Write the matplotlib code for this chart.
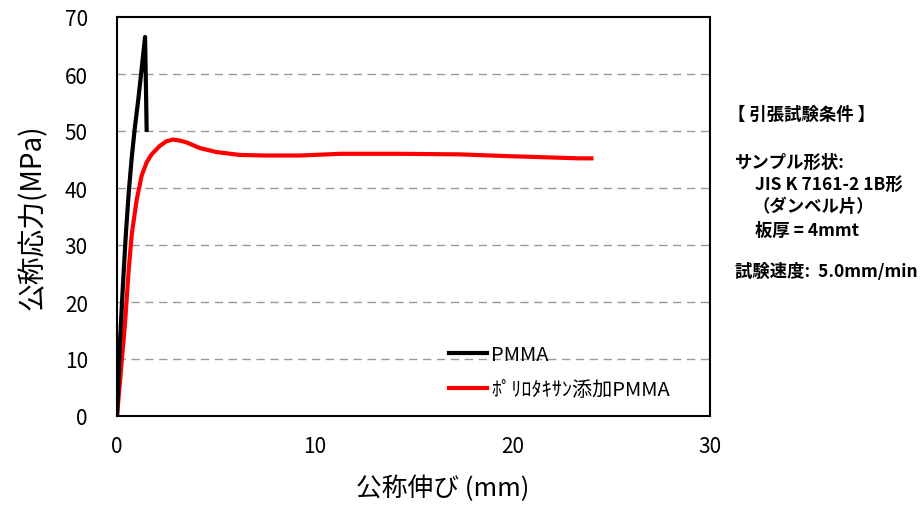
import matplotlib
matplotlib.use("Agg")
import matplotlib.pyplot as plt

plt.rcParams['font.family'] = ['Noto Sans CJK JP', 'DejaVu Sans']

# Data
pmma_x = [0, 0.15, 0.3, 0.45, 0.6, 0.75, 0.9, 1.08, 1.25, 1.42, 1.5]
pmma_y = [0, 13, 23, 32, 39.5, 45.5, 50.5, 55.6, 61, 66.5, 50.2]

rot_x = [0, 0.2, 0.4, 0.6, 0.75, 1.0, 1.25, 1.5, 1.75, 2.17, 2.5, 2.85, 3.2, 3.52,
         4.2, 5.04, 6.22, 7.5, 9.26, 11.3, 14.3, 17.35, 19.7, 21.55, 23.4, 24.0]
rot_y = [0, 8, 16, 26, 32, 38, 42.2, 44.5, 45.9, 47.4, 48.2, 48.5, 48.3, 48.0,
         47.0, 46.3, 45.8, 45.7, 45.7, 46.0, 46.0, 45.9, 45.6, 45.4, 45.2, 45.2]

labels = ["PMMA", "ﾎﾟﾘﾛﾀｷｻﾝ添加PMMA"]
xticks = [0, 10, 20, 30]
yticks = [0, 10, 20, 30, 40, 50, 60, 70]

fig = plt.figure(figsize=(9.22, 5.06), dpi=100)
ax = fig.add_axes([117/922, 1-417/506, (710-117)/922, (417-18)/506])

for y in yticks[1:-1]:
    ax.axhline(y, color='#999999', lw=1, ls=(0, (6, 4)), zorder=1)

ax.plot(pmma_x, pmma_y, color='black', lw=3, label=labels[0], zorder=3)
ax.plot(rot_x, rot_y, color='#ff0000', lw=3, label=labels[1], zorder=2)

ax.set_xlim(0, 30)
ax.set_ylim(0, 70)
ax.set_xticks(xticks)
ax.set_yticks(yticks)
ax.tick_params(axis='both', length=0, labelsize=15)
ax.tick_params(axis='y', pad=21)
ax.tick_params(axis='x', pad=14)
for s in ax.spines.values():
    s.set_linewidth(1.5)
    s.set_color('black')

ax.set_xlabel("公称伸び (mm)", fontsize=18.5, labelpad=12)
ax.xaxis.label.set_x((443 - 117) / 593)
ax.set_ylabel("公称応力(MPa)", fontsize=20, labelpad=12)

leg = ax.legend(loc='upper left', bbox_to_anchor=(449/922, 1-345/506),
                bbox_transform=fig.transFigure, frameon=False, fontsize=14.5,
                handlelength=1.9, handletextpad=0.2, labelspacing=0.72,
                borderpad=0, borderaxespad=0)

fs = 12.5
fig.text(728/922, 1-115/506, "【 引張試験条件 】", fontsize=fs, fontweight='bold', va='center')
fig.text(735/922, 1-163/506, "サンプル形状:", fontsize=fs, fontweight='bold', va='center')
fig.text(755/922, 1-185/506, "JIS K 7161-2 1B形", fontsize=fs, fontweight='bold', va='center')
fig.text(752/922, 1-207/506, "（ダンベル片）", fontsize=fs, fontweight='bold', va='center')
fig.text(755/922, 1-231/506, "板厚 = 4mmt", fontsize=fs, fontweight='bold', va='center')
fig.text(735/922, 1-272/506, "試験速度:  5.0mm/min", fontsize=fs, fontweight='bold', va='center')

fig.savefig("out.png", dpi=100)
